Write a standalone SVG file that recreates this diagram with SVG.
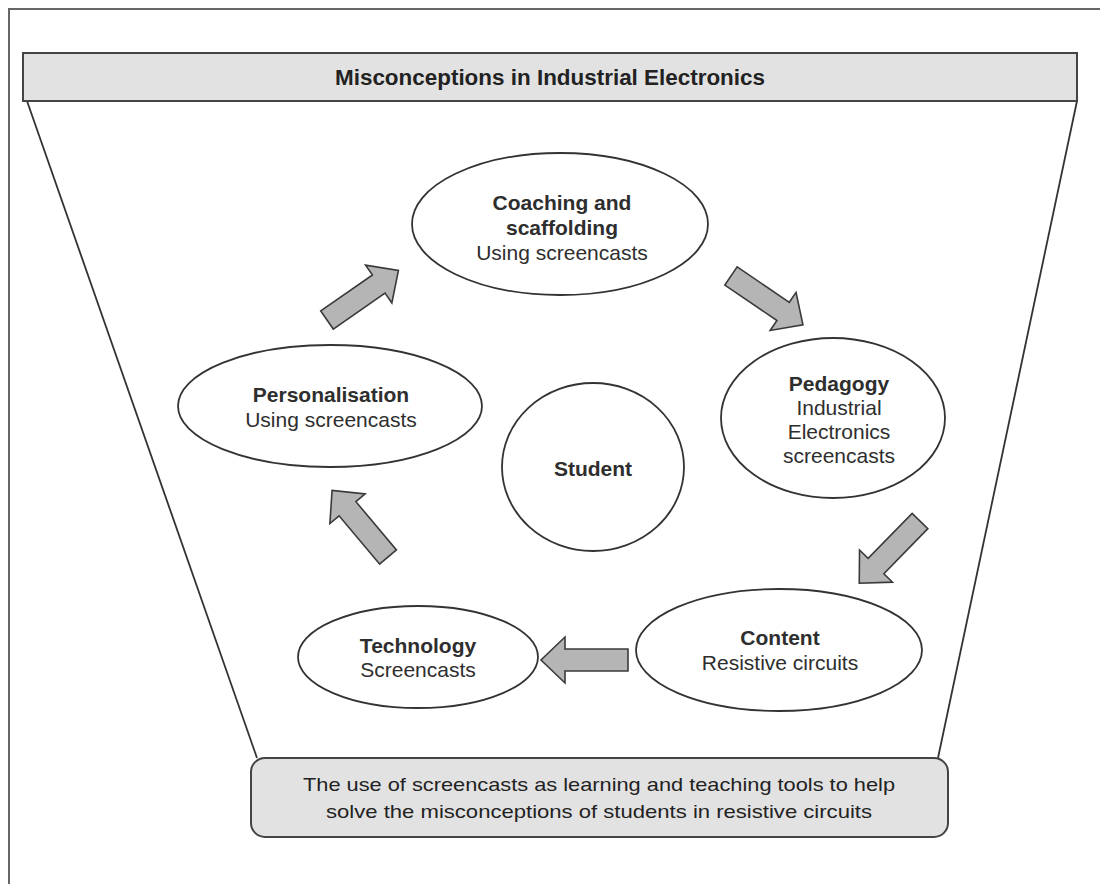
<svg xmlns="http://www.w3.org/2000/svg" width="1100" height="884" viewBox="0 0 1100 884">
  <style>
    .node { fill: #ffffff; stroke: #333333; stroke-width: 1.8; }
    .panel { fill: #e2e2e2; stroke: #444444; stroke-width: 2; }
    .line { fill: none; stroke: #333333; stroke-width: 1.8; }
    .arrow { fill: #b5b5b5; stroke: #3a3a3a; stroke-width: 1.6; stroke-linejoin: miter; }
    text { font-family: "Liberation Sans", Arial, sans-serif; fill: #2e2e2e; text-anchor: middle; }
    .b { font-weight: bold; font-size: 21px; }
    .r { font-size: 21px; }
    .title { font-weight: bold; font-size: 22px; fill: #222222; }
    .foot { font-size: 19px; fill: #222222; }
  </style>
  <defs>
    <polygon id="blk" class="arrow" points="0,-11 63,-11 63,-23 87,0 63,23 63,11 0,11"/>
  </defs>
  <rect x="0" y="0" width="1100" height="884" fill="#ffffff"/>

  <g id="frame">
    <path d="M9,884 L9,9 L1100,9" fill="none" stroke="#666666" stroke-width="2"/>
    <path class="line" d="M27,101 L257,758"/>
    <path class="line" d="M1077,101 L938,758"/>
  </g>

  <g id="header">
    <rect class="panel" x="23" y="53" width="1054" height="48"/>
    <text class="title" x="550" y="85" textLength="430" lengthAdjust="spacingAndGlyphs">Misconceptions in Industrial Electronics</text>
  </g>

  <g id="footer">
    <rect class="panel" x="251" y="758" width="697" height="79" rx="14" ry="14"/>
    <text class="foot" x="599" y="791" textLength="592" lengthAdjust="spacingAndGlyphs">The use of screencasts as learning and teaching tools to help</text>
    <text class="foot" x="599" y="818" textLength="546" lengthAdjust="spacingAndGlyphs">solve the misconceptions of students in resistive circuits</text>
  </g>

  <g id="connectors">
    <use href="#blk" transform="translate(327,320) rotate(-34.8)"/>
    <use href="#blk" transform="translate(731,276) rotate(34.2)"/>
    <use href="#blk" transform="translate(920,521) rotate(134.3)"/>
    <use href="#blk" transform="translate(628,660) rotate(180)"/>
    <use href="#blk" transform="translate(388,557) rotate(-130)"/>
  </g>

  <g id="coaching">
    <ellipse class="node" cx="560" cy="224" rx="148" ry="71"/>
    <text class="b" x="562" y="210">Coaching and</text>
    <text class="b" x="562" y="235">scaffolding</text>
    <text class="r" x="562" y="260">Using screencasts</text>
  </g>

  <g id="pedagogy">
    <ellipse class="node" cx="833" cy="418" rx="112" ry="80"/>
    <text class="b" x="839" y="391">Pedagogy</text>
    <text class="r" x="839" y="415">Industrial</text>
    <text class="r" x="839" y="439">Electronics</text>
    <text class="r" x="839" y="463">screencasts</text>
  </g>

  <g id="content">
    <ellipse class="node" cx="779" cy="650" rx="143" ry="61"/>
    <text class="b" x="780" y="645">Content</text>
    <text class="r" x="780" y="670">Resistive circuits</text>
  </g>

  <g id="technology">
    <ellipse class="node" cx="418" cy="657" rx="120" ry="51"/>
    <text class="b" x="418" y="653">Technology</text>
    <text class="r" x="418" y="677">Screencasts</text>
  </g>

  <g id="personalisation">
    <ellipse class="node" cx="330" cy="406" rx="152" ry="61"/>
    <text class="b" x="331" y="402">Personalisation</text>
    <text class="r" x="331" y="427">Using screencasts</text>
  </g>

  <g id="student">
    <ellipse class="node" cx="593" cy="467" rx="91" ry="84"/>
    <text class="b" x="593" y="476">Student</text>
  </g>
</svg>
